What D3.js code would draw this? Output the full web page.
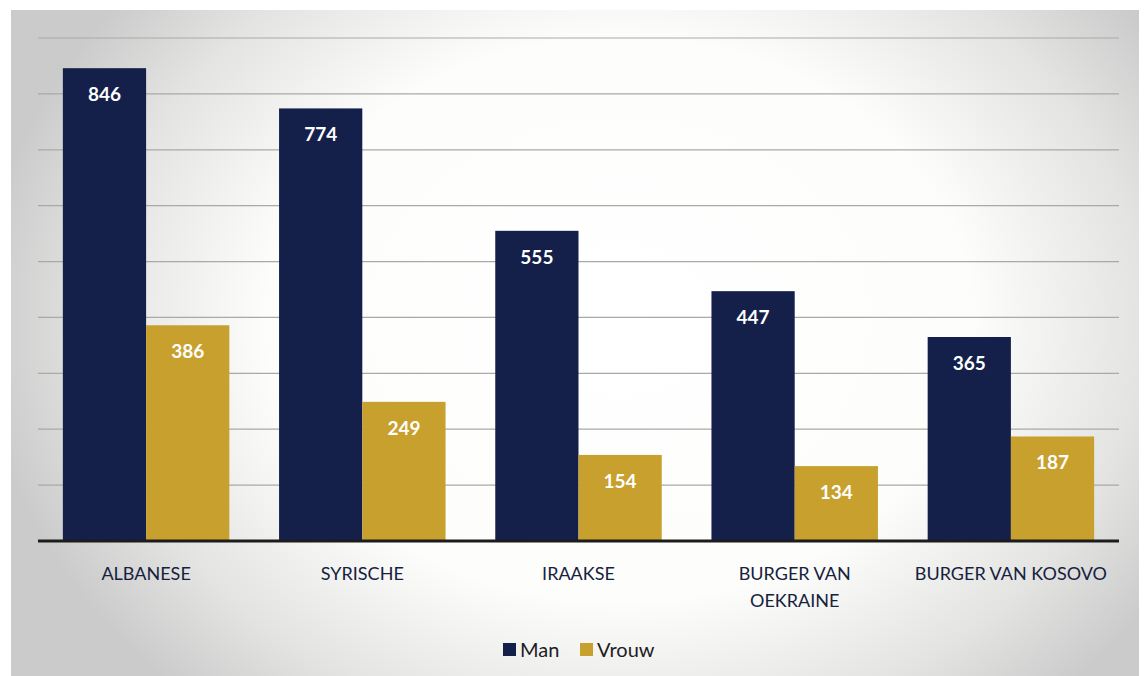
<!DOCTYPE html>
<html>
<head>
<meta charset="utf-8">
<script src="https://cdn.jsdelivr.net/npm/d3@7"></script>
<style>
  html, body { margin: 0; padding: 0; background: #fff; }
  svg { display: block; font-family: Lato, "Open Sans", sans-serif; }
</style>
</head>
<body>
<div id="chart"></div>
<script>
// Data
const categories = ['ALBANESE', 'SYRISCHE', 'IRAAKSE', 'BURGER VAN OEKRAINE', 'BURGER VAN KOSOVO'];
const series = ['Man', 'Vrouw'];
const manValues = [846, 774, 555, 447, 365];
const vrouwValues = [386, 249, 154, 134, 187];
const yTicks = [0, 100, 200, 300, 400, 500, 600, 700, 800, 900];

function drawChart() {
    const width = 1145;
    const height = 676;
    const colors = { Man: '#14204a', Vrouw: '#c7a02e' };

    const svg = d3.select('#chart')
        .append('svg')
        .attr('width', width)
        .attr('height', height);

    // Scanned paper look: grey edges, white centre
    const defs = svg.append('defs');
    const grad = defs.append('radialGradient')
        .attr('id', 'paper')
        .attr('gradientUnits', 'userSpaceOnUse')
        .attr('cx', 620).attr('cy', 320).attr('r', 640)
        .attr('gradientTransform', 'translate(620,320) scale(1,0.8) translate(-620,-320)');
    grad.append('stop').attr('offset', '0%').attr('stop-color', '#ffffff');
    grad.append('stop').attr('offset', '55%').attr('stop-color', '#fdfdfc');
    grad.append('stop').attr('offset', '82%').attr('stop-color', '#e3e3e2');
    grad.append('stop').attr('offset', '100%').attr('stop-color', '#cbcbcb');

    svg.append('rect')
        .attr('x', 11).attr('y', 10)
        .attr('width', 1128).attr('height', height - 10)
        .attr('fill', 'url(#paper)');

    const plotLeft = 38, plotRight = 1119;
    const y = d3.scaleLinear().domain([0, 900]).range([541, 38]);
    const x0 = d3.scaleBand().domain(categories).range([plotLeft, plotRight]).paddingInner(0.23).paddingOuter(0.115);
    const x1 = d3.scaleBand().domain(series).range([0, x0.bandwidth()]).padding(0);

    // Gridlines
    svg.append('g')
        .selectAll('line')
        .data(yTicks.slice(1))
        .enter()
        .append('line')
        .attr('x1', plotLeft).attr('x2', plotRight)
        .attr('y1', d => y(d)).attr('y2', d => y(d))
        .attr('stroke', '#a9a9a6')
        .attr('stroke-width', 1.2);

    const rows = categories.map((c, i) => ({ cat: c, Man: manValues[i], Vrouw: vrouwValues[i] }));

    const groups = svg.selectAll('.group')
        .data(rows)
        .enter()
        .append('g')
        .attr('class', 'group')
        .attr('transform', d => `translate(${x0(d.cat)},0)`);

    const cells = groups.selectAll('g')
        .data(d => series.map(s => ({ key: s, value: d[s] })))
        .enter()
        .append('g');

    cells.append('rect')
        .attr('x', d => x1(d.key))
        .attr('y', d => y(d.value))
        .attr('width', x1.bandwidth())
        .attr('height', d => y(0) - y(d.value))
        .attr('fill', d => colors[d.key]);

    cells.append('text')
        .attr('x', d => x1(d.key) + x1.bandwidth() / 2)
        .attr('y', d => y(d.value) + 33)
        .attr('text-anchor', 'middle')
        .attr('fill', '#ffffff')
        .attr('font-size', 19)
        .attr('font-weight', 'bold')
        .text(d => d.value);

    // Baseline
    svg.append('line')
        .attr('x1', plotLeft).attr('x2', plotRight)
        .attr('y1', y(0)).attr('y2', y(0))
        .attr('stroke', '#1c1c1c')
        .attr('stroke-width', 3);

    // Category labels (wrapped like the original)
    const labelLines = {
        'ALBANESE': ['ALBANESE'],
        'SYRISCHE': ['SYRISCHE'],
        'IRAAKSE': ['IRAAKSE'],
        'BURGER VAN OEKRAINE': ['BURGER VAN', 'OEKRAINE'],
        'BURGER VAN KOSOVO': ['BURGER VAN KOSOVO']
    };
    const labels = svg.append('g')
        .selectAll('text')
        .data(categories)
        .enter()
        .append('text')
        .attr('x', d => x0(d) + x0.bandwidth() / 2)
        .attr('y', 580)
        .attr('text-anchor', 'middle')
        .attr('fill', '#16213d')
        .attr('font-size', 18);
    labels.selectAll('tspan')
        .data(d => labelLines[d])
        .enter()
        .append('tspan')
        .attr('x', function() { return d3.select(this.parentNode).attr('x'); })
        .attr('dy', (d, i) => i === 0 ? 0 : 27)
        .text(d => d);

    // Legend
    const legend = svg.append('g').attr('transform', 'translate(503,643)');
    const legendX = { Man: 0, Vrouw: 77 };
    const entries = legend.selectAll('g')
        .data(series)
        .enter()
        .append('g')
        .attr('transform', d => `translate(${legendX[d]},0)`);
    entries.append('rect')
        .attr('width', 13).attr('height', 13)
        .attr('fill', d => colors[d]);
    entries.append('text')
        .attr('x', 17).attr('y', 14)
        .attr('font-size', 20)
        .attr('fill', '#1d1d1d')
        .text(d => d);
}

document.addEventListener('DOMContentLoaded', drawChart);
</script>
</body>
</html>
